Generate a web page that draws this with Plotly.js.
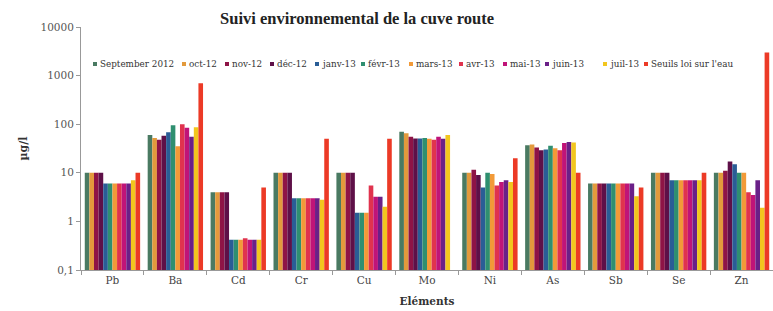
<!DOCTYPE html>
<html><head><meta charset="utf-8">
<script src="https://cdn.plot.ly/plotly-3.0.1.min.js"></script>
<style>html,body{margin:0;padding:0;background:#fff}#chart{width:773px;height:311px}</style>
</head><body><div id="chart"></div>
<script>
// ---- data ----
const elements = ["Pb","Ba","Cd","Cr","Cu","Mo","Ni","As","Sb","Se","Zn"];
const seriesNames = ["September 2012","oct-12","nov-12","déc-12","janv-13","févr-13","mars-13","avr-13","mai-13","juin-13","juil-13","Seuils loi sur l'eau"];
const sep12  = [10, 60, 4, 10, 10, 70, 10, 37, 6, 10, 10];
const oct12  = [10, 52, 4, 10, 10, 65, 10, 38, 6, 10, 10];
const nov12  = [10, 48, 4, 10, 10, 55, 11.5, 33, 6, 10, 11];
const dec12  = [10, 58, 4, 10, 10, 51, 9, 29, 6, 10, 17];
const janv13 = [6, 68, 0.42, 3, 1.5, 51, 5, 30, 6, 7, 15];
const fevr13 = [6, 95, 0.42, 3, 1.5, 52, 10, 36, 6, 7, 10];
const mars13 = [6, 35, 0.42, 3, 1.5, 50, 9.5, 32, 6, 7, 10];
const avr13  = [6, 100, 0.45, 3, 5.5, 48, 5.5, 29, 6, 7, 4];
const mai13  = [6, 85, 0.42, 3, 3.2, 55, 6.5, 41, 6, 7, 3.5];
const juin13 = [6, 55, 0.42, 3, 3.2, 50, 7, 43, 6, 7, 7];
const juil13 = [7, 87, 0.42, 2.8, 2, 60, 6.5, 42, 3.3, 7, 1.9];
const seuils = [10, 700, 5, 50, 50, null, 20, 10, 5, 10, 3000];
const seriesValues = [sep12, oct12, nov12, dec12, janv13, fevr13, mars13, avr13, mai13, juin13, juil13, seuils];
const yTickVals = [0.1, 1, 10, 100, 1000, 10000];
const yTickText = ["0,1", "1", "10", "100", "1000", "10000"];

// ---- style / layout ----
const colors = ["#4a7a62","#e39a3c","#8e1446","#5e1048","#2a5d96","#2f8f70","#f29a38","#e0334e","#c01478","#6a2088","#f2c61e","#ec3a26"];
const W = 773, H = 311, M = {l: 81, r: 0, t: 27, b: 41};
const pw = W - M.l - M.r, ph = H - M.t - M.b;
const legendPx = [95,184,227,272,317,363,411,461,505,547,605,646];
const legendPy = 64;
const serif = "DejaVu Serif, Liberation Serif, serif";

const traces = seriesValues.map((v, i) => ({
  type: "bar", name: seriesNames[i], x: elements, y: v,
  marker: {color: colors[i], line: {width: 0}}
}));

const annotations = [], shapes = [];
seriesNames.forEach((n, i) => {
  const px = legendPx[i];
  shapes.push({type: "rect", xref: "paper", yref: "paper",
    x0: (px - 2 - M.l) / pw, x1: (px + 2 - M.l) / pw,
    y0: (H - M.b - (legendPy + 2)) / ph, y1: (H - M.b - (legendPy - 2)) / ph,
    fillcolor: colors[i], line: {width: 0}});
  annotations.push({xref: "paper", yref: "paper", x: (px + 3 - M.l) / pw, y: (H - M.b - legendPy) / ph,
    xanchor: "left", yanchor: "middle", showarrow: false, text: n,
    font: {family: serif, size: 8.8, color: "#333"}});
});

const layout = {
  width: W, height: H, margin: M, paper_bgcolor: "#fff", plot_bgcolor: "#fff",
  showlegend: false, barmode: "group", bargap: 0.12, bargroupgap: 0,
  title: {text: "<b>Suivi environnemental de la cuve route</b>", x: 357 / W, xref: "container", xanchor: "center",
    y: 1 - 18 / H, yref: "container", yanchor: "middle", font: {family: "Liberation Serif, serif", size: 16.5, color: "#222"}},
  xaxis: {type: "category", tickson: "boundaries", ticks: "outside", ticklen: 4, tickcolor: "#999",
    showline: true, linecolor: "#999", linewidth: 1, showgrid: false, zeroline: false,
    tickfont: {family: serif, size: 10.5, color: "#444"},
    title: {text: "<b>Eléments</b>", standoff: 13, font: {family: serif, size: 10.5, color: "#333"}}},
  yaxis: {type: "log", range: [-1, 4], tickvals: yTickVals, ticktext: yTickText,
    ticks: "outside", ticklen: 4, tickcolor: "#999", showline: true, linecolor: "#999", linewidth: 1,
    showgrid: false, zeroline: false, tickfont: {family: serif, size: 10.5, color: "#555"},
    title: {text: "<b>µg/l</b>", standoff: 10, font: {family: serif, size: 11, color: "#333"}}},
  annotations: annotations, shapes: shapes
};
Plotly.newPlot("chart", traces, layout, {displayModeBar: false, staticPlot: true});
</script></body></html>
